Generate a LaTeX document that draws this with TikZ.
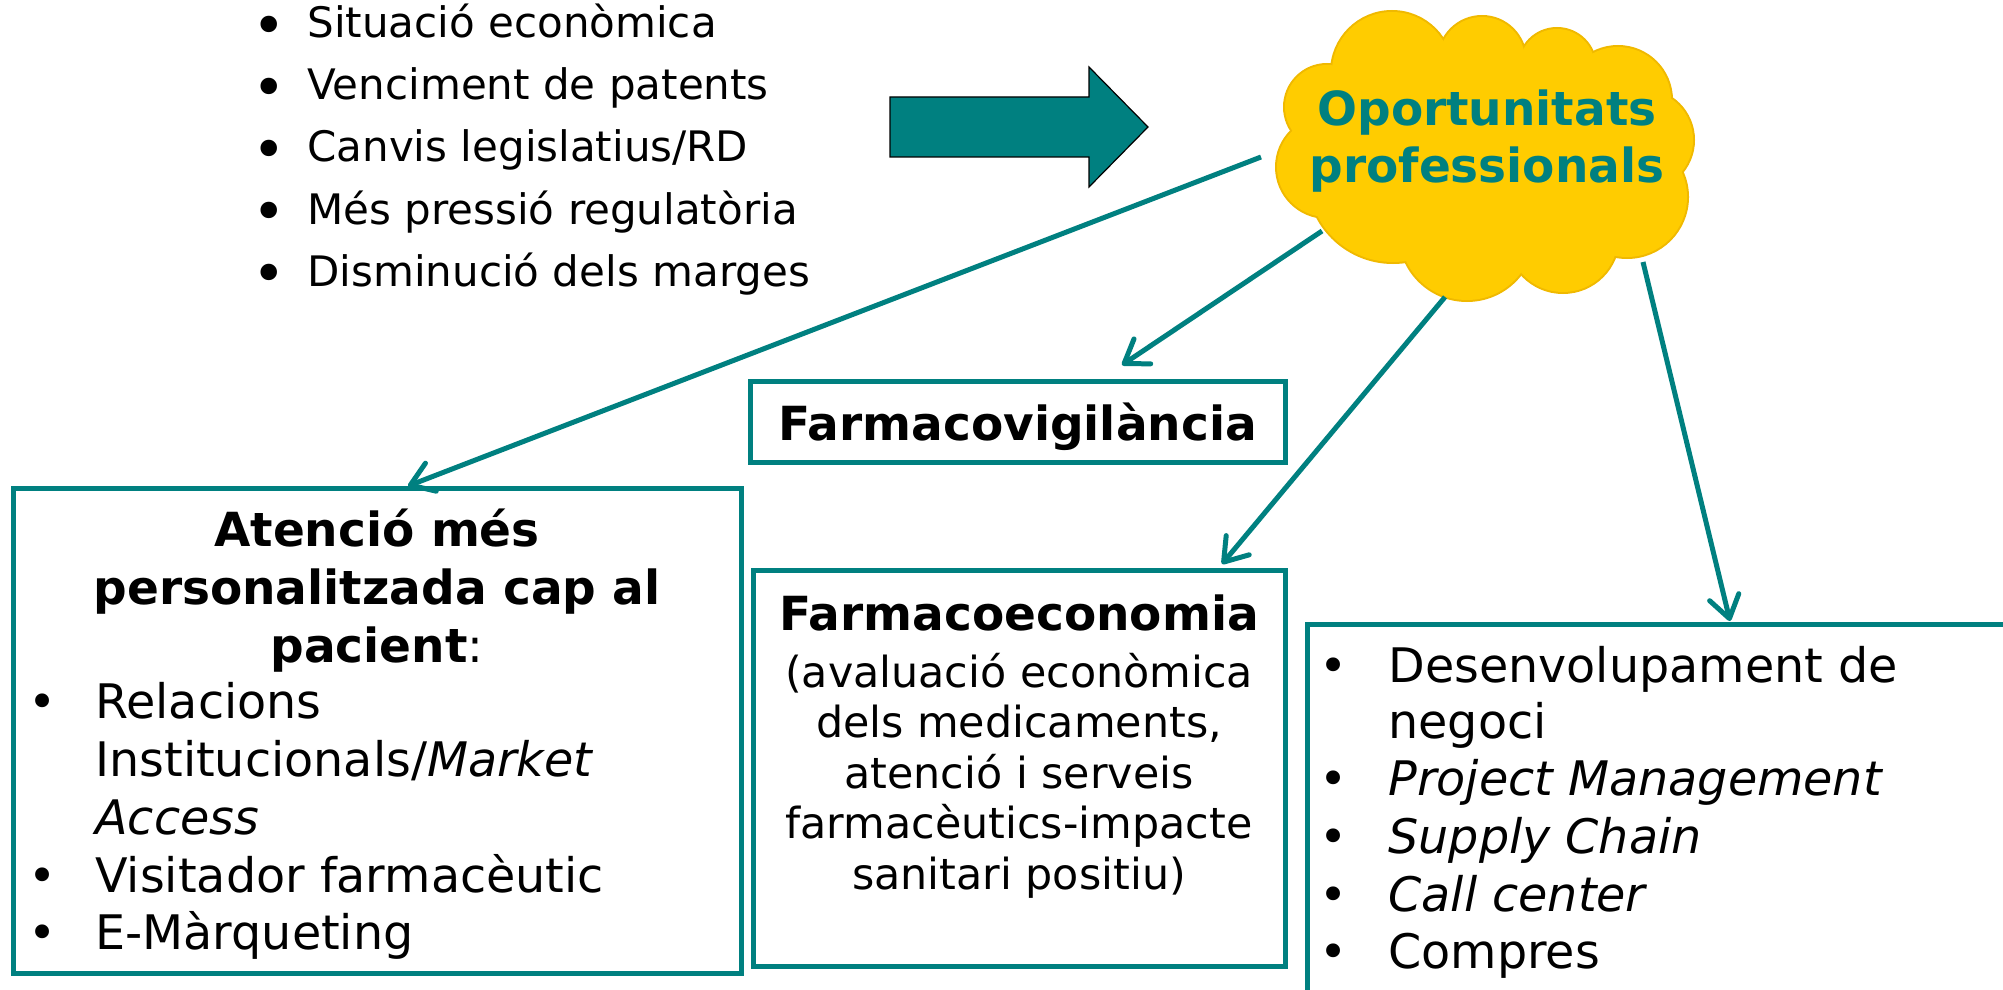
\documentclass[tikz,border=0pt]{standalone}
\usepackage{fontspec}
\setmainfont{DejaVu Sans}
\usetikzlibrary{arrows.meta}
\definecolor{teal1}{RGB}{0,128,128}
\definecolor{cloudfill}{RGB}{255,204,0}
\definecolor{cloudline}{RGB}{240,185,0}
\newcommand\bul[1]{\makebox[#1][c]{•}}
\newcommand\bigbul[1]{\makebox[#1][c]{\raisebox{-0.17em}{\scalebox{1.35}{•}}}}
\tikzset{
  boxst/.style={draw=teal1, line width=2.5pt, inner sep=0pt, fill=white},
  txt/.style={inner sep=0pt, anchor=base west, text=black},
  ctxt/.style={inner sep=0pt, anchor=base, text=black},
  topfont/.style={font=\fontsize{21pt}{31pt}\selectfont},
  bigfont/.style={font=\fontsize{23.8pt}{29pt}\selectfont},
  headfont/.style={font=\fontsize{23.5pt}{29pt}\selectfont\bfseries},
  smallfont/.style={font=\fontsize{21.4pt}{25pt}\selectfont},
  cloudfont/.style={font=\fontsize{23.5pt}{28.5pt}\selectfont\bfseries, text=teal1},
  conn/.style={draw=teal1, line width=2.5pt, -{Straight Barb[length=11pt,width=15pt,round]}},
}
\begin{document}
\begin{tikzpicture}[x=0.5pt,y=-0.5pt]
\useasboundingbox (0,0) rectangle (2003,990);

% ---- top list of causes
\foreach \t [count=\i] in {Situació econòmica, Venciment de patents, Canvis legislatius/RD, Més pressió regulatòria, Disminució dels marges}
  \node[txt, topfont] (cause\i) at (231, {38+62*(\i-1)}) {\bigbul{38pt}\t};

% ---- block arrow
\fill[teal1, draw=black, line width=0.6pt] (890,97) -- (1089,97) -- (1089,67) -- (1148,127)
  -- (1089,187) -- (1089,157) -- (890,157) -- cycle;

% ---- cloud
\def\puffs{1392/72/60, 1482/60/43, 1557/67/38, 1618/100/53, 1643/140/50, 1627/197/60, 1563/237/55, 1467/233/67, 1393/177/85, 1327/167/50, 1327/107/42}
\foreach \x/\y/\r in \puffs \draw[cloudline, line width=2pt] (\x,\y) circle[radius=\r];
\fill[cloudfill] (1392,72) -- (1482,60) -- (1557,67) -- (1618,100) -- (1643,140) -- (1627,197)
  -- (1563,237) -- (1467,233) -- (1393,177) -- (1327,167) -- (1327,107) -- cycle;
\foreach \x/\y/\r in \puffs \fill[cloudfill] (\x,\y) circle[radius=\r];
\node[ctxt, cloudfont, text=teal1] (cloud1) at (1487,126) {Oportunitats};
\node[ctxt, cloudfont, text=teal1] (cloud2) at (1487,183) {professionals};

% ---- boxes
\node[boxst, minimum width=364pt, minimum height=242.5pt] (atencio) at (377,730.5) {};
\node[boxst, minimum width=267.5pt, minimum height=40.5pt] (vigil) at (1017.5,421.5) {};
\node[boxst, minimum width=266pt, minimum height=198pt] (econ) at (1019,768) {};
\node[boxst, minimum width=361.5pt, minimum height=198pt] (negoci) at (1668.5,822) {};

% ---- texts: Atenció
\node[ctxt, headfont] (at1) at (377,546) {Atenció més};
\node[ctxt, headfont] (at2) at (377,604) {personalitzada cap al};
\node[ctxt, headfont] (at3) at (377,662) {pacient\mdseries:};
\node[txt, bigfont] (at4) at (-11,718) {\bul{53pt}Relacions};
\node[txt, bigfont] (at5) at (95,776) {Institucionals/\textit{Market}};
\node[txt, bigfont] (at6) at (95,834) {\textit{Access}};
\node[txt, bigfont] (at7) at (-11,892) {\bul{53pt}Visitador farmacèutic};
\node[txt, bigfont] (at8) at (-11,949) {\bul{53pt}E-Màrqueting};

% ---- Farmacovigilància
\node[ctxt, headfont] (vg1) at (1017.5,440) {Farmacovigilància};

% ---- Farmacoeconomia
\node[ctxt, headfont] (ec0) at (1019,630) {Farmacoeconomia};
\node[ctxt, smallfont] (ec1) at (1019,687) {(avaluació econòmica};
\node[ctxt, smallfont] (ec2) at (1019,737.5) {dels medicaments,};
\node[ctxt, smallfont] (ec3) at (1019,788) {atenció i serveis};
\node[ctxt, smallfont] (ec4) at (1019,838.5) {farmacèutics-impacte};
\node[ctxt, smallfont] (ec5) at (1019,889) {sanitari positiu)};

% ---- right box
\node[txt, bigfont] (ng1) at (1278,682) {\bul{55pt}Desenvolupament de};
\node[txt, bigfont] (ng2) at (1388,738) {negoci};
\node[txt, bigfont] (ng3) at (1278,795) {\bul{55pt}\textit{Project Management}};
\node[txt, bigfont] (ng4) at (1278,853) {\bul{55pt}\textit{Supply Chain}};
\node[txt, bigfont] (ng5) at (1278,911) {\bul{55pt}\textit{Call center}};
\node[txt, bigfont] (ng6) at (1278,968) {\bul{55pt}Compres};

% ---- connectors
\coordinate (s1) at (1261,157);
\coordinate (s2) at (1322,231);
\coordinate (s3) at (1445,297);
\coordinate (s4) at (1643,262);
\coordinate (t1) at (408,486);
\coordinate (t2) at (1122,365);
\coordinate (t3) at (1222,564);
\coordinate (t4) at (1730,621);
\draw[conn] (s1) -- (t1);
\draw[conn] (s2) -- (t2);
\draw[conn] (s3) -- (t3);
\draw[conn] (s4) -- (t4);
\end{tikzpicture}
\end{document}
